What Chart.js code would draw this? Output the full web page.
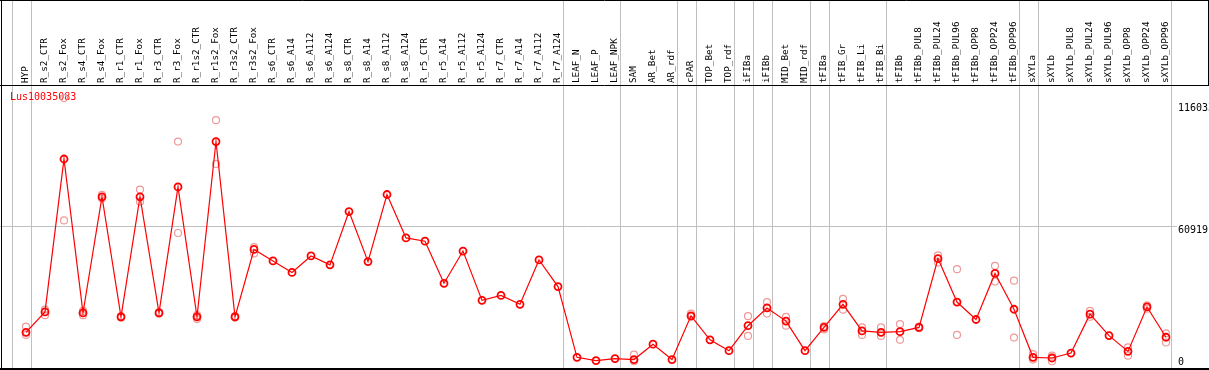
<!DOCTYPE html>
<html>
<head>
<meta charset="utf-8">
<script src="https://cdn.jsdelivr.net/npm/chart.js@4.4.1/dist/chart.umd.min.js"></script>
<style>
  html, body { margin: 0; padding: 0; background: #fff; overflow: hidden; }
  canvas { display: block; }
</style>
</head>
<body>
<canvas id="myChart" width="1209" height="370"></canvas>
<script>
//Chart Data
const geneName = "Lus10035083";

const categories = [
  "HYP", "R_s2_CTR", "R_s2_Fox", "R_s4_CTR", "R_s4_Fox", "R_r1_CTR", "R_r1_Fox",
  "R_r3_CTR", "R_r3_Fox", "R_r1s2_CTR", "R_r1s2_Fox", "R_r3s2_CTR", "R_r3s2_Fox",
  "R_s6_CTR", "R_s6_A14", "R_s6_A112", "R_s6_A124", "R_s8_CTR", "R_s8_A14",
  "R_s8_A112", "R_s8_A124", "R_r5_CTR", "R_r5_A14", "R_r5_A112", "R_r5_A124",
  "R_r7_CTR", "R_r7_A14", "R_r7_A112", "R_r7_A124", "LEAF_N", "LEAF_P", "LEAF_NPK",
  "SAM", "AR_Bet", "AR_rdf", "cPAR", "TOP_Bet", "TOP_rdf", "iFIBa", "iFIBb",
  "MID_Bet", "MID_rdf", "tFIBa", "tFIB_Gr", "tFIB_Li", "tFIB_Bi", "tFIBb",
  "tFIBb_PUL8", "tFIBb_PUL24", "tFIBb_PUL96", "tFIBb_OPP8", "tFIBb_OPP24", "tFIBb_OPP96",
  "sXYLa", "sXYLb", "sXYLb_PUL8", "sXYLb_PUL24", "sXYLb_PUL96", "sXYLb_OPP8",
  "sXYLb_OPP24", "sXYLb_OPP96"
];

const meanValues = [
  13030, 22235, 91160, 21790, 74130, 20010, 74130, 21790, 78580, 20010, 99030, 20010, 50380,
  45230, 40020, 47450, 43450, 67460, 44910, 75150, 55590, 54120, 35130, 49670, 27440,
  29660, 25660, 45670, 33660, 1780, 310, 1200,
  760, 7690, 760, 20460, 9650, 4760, 16010, 24010, 18100, 4760, 15250, 25660, 13650, 13030, 13340,
  15250, 46250, 26680, 18810, 39580, 23440,
  1780, 1470, 3690, 21210, 11560, 4450, 24460, 10810
];

const rep1Values = [
  15560, 23260, 118600, 22680, 75000, 20400, 77380, 22200, 99030, 20770, 108640, 20300, 51450,
  null, null, null, null, null, null, null, null, null, null, null, null,
  null, null, null, null, null, null, null,
  2980, null, null, 21480, null, null, 20320, 26680, 20010, null, 15880, 28150, 15250, 15250, 16770,
  15560, 47720, 41490, null, 43000, 36330,
  3250, 2530, null, 22680, null, 6230, 25210, 12590
];

const rep2Values = [
  11870, 20770, 63460, 20770, 73300, 19600, 71910, 21400, 57810, 18990, 88940, 19700, 48610,
  null, null, null, null, null, null, null, null, null, null, null, null,
  null, null, null, null, null, null, null,
  0, null, null, 20010, null, null, 11430, 21480, 16010, null, 14360, 23260, 11870, 11430, 9650,
  14900, 44470, 11870, null, 35890, 10670,
  760, 0, null, 20010, null, 2530, 23700, 8450
];

const yTickValues = [0, 60919, 116033];
const yTickLabels = ["0", "60919", "116033"];

//Index of the last sample in each group (separator drawn just after it)
const groupEnds = [-1, 0, 28, 31, 34, 35, 37, 38, 39, 41, 42, 45, 52, 53, 60];

const monoFont = '"DejaVu Sans Mono", "Liberation Mono", monospace';

//Frame, separators, labels
const decorPlugin = {
  id: "decor",
  beforeDatasetsDraw(chart) {
    const c = chart.ctx;
    const xs = chart.scales.x;
    const ys = chart.scales.y;
    const W = chart.width, H = chart.height;
    c.save();

    // gray separators
    c.strokeStyle = "#c0c0c0";
    c.lineWidth = 1;
    groupEnds.forEach((i) => {
      const x = Math.round(xs.getPixelForValue(i + 0.24)) + 0.5;
      c.beginPath();
      c.moveTo(x, 0);
      c.lineTo(x, H);
      c.stroke();
    });

    // mid grid line
    const gy = Math.round(ys.getPixelForValue(yTickValues[1])) + 0.5;
    c.beginPath();
    c.moveTo(0, gy);
    c.lineTo(1177, gy);
    c.stroke();

    // black frame
    c.strokeStyle = "#000";
    c.beginPath();
    c.moveTo(0, 0.5); c.lineTo(W, 0.5);
    c.moveTo(0, 85.5); c.lineTo(W, 85.5);
    c.moveTo(1.5, 0); c.lineTo(1.5, H);
    c.moveTo(W - 0.5, 0); c.lineTo(W - 0.5, 85);
    c.stroke();
    c.lineWidth = 2;
    c.beginPath();
    c.moveTo(0, 369); c.lineTo(W, 369);
    c.stroke();

    // category labels, rotated
    c.fillStyle = "#000";
    c.font = "9.3px " + monoFont;
    c.textAlign = "left";
    c.textBaseline = "middle";
    categories.forEach((name, i) => {
      const x = xs.getPixelForValue(i);
      c.save();
      c.translate(x, 83);
      c.rotate(-Math.PI / 2);
      c.fillText(name, 0, 0);
      c.restore();
    });

    // value labels on the right
    c.font = "10px " + monoFont;
    yTickValues.forEach((v, k) => {
      const y = Math.min(ys.getPixelForValue(v) + 4.5, 362);
      c.fillText(yTickLabels[k], 1178, y);
    });

    // gene name
    c.fillStyle = "#ff0000";
    c.fillText(geneName, 10, 97.5);
    c.restore();
  },
};

//Rendering Chart
const ctx = document.getElementById("myChart").getContext("2d");

const repStyle = {
  showLine: false,
  pointStyle: "circle",
  pointRadius: 3.5,
  pointBorderWidth: 1.2,
  pointBorderColor: "#ee9a9a",
  pointBackgroundColor: "rgba(0,0,0,0)",
  clip: false,
};

const myChart = new Chart(ctx, {
  type: "line",
  data: {
    labels: categories,
    datasets: [
      {
        label: "mean",
        data: meanValues,
        borderColor: "#ff0000",
        borderWidth: 1.2,
        pointRadius: 3.5,
        pointBorderWidth: 1.8,
        pointBorderColor: "#ff0000",
        pointBackgroundColor: "rgba(0,0,0,0)",
        tension: 0,
        clip: false,
        order: 0,
      },
      Object.assign({ label: "rep1", data: rep1Values, order: 1 }, repStyle),
      Object.assign({ label: "rep2", data: rep2Values, order: 2 }, repStyle),
    ],
  },
  options: {
    responsive: false,
    devicePixelRatio: 1,
    animation: false,
    events: [],
    layout: { padding: { left: 26, right: 43, top: 86, bottom: 2 } },
    scales: {
      x: { type: "category", display: false, offset: false },
      y: { type: "linear", display: false, min: -1334, max: 124061 },
    },
    plugins: { legend: { display: false }, tooltip: { enabled: false }, title: { display: false } },
  },
  plugins: [decorPlugin],
});
</script>
</body>
</html>
